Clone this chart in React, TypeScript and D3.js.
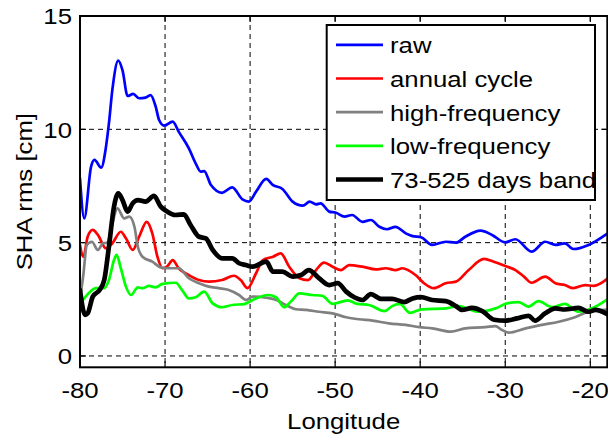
import React from 'react';
import * as d3 from 'd3';

// ---- data (longitude, SHA rms in cm) ----
const rawLon = [-80, -79.5, -78.7, -78.3, -77.5, -77.0, -76.6, -76.2, -75.5, -75.0, -74.4, -73.75, -73.05, -72.3, -71.7, -71.1, -70.7, -70.1, -69.1, -68.4, -67.2, -66.4, -65.8, -65.4, -64.6, -63.3, -62.1, -60.9, -60.15, -59.3, -58.1, -57.3, -56.2, -55.0, -53.8, -53.0, -52.25, -51.7, -50.7, -49.9, -48.9, -48.0, -46.8, -45.8, -44.8, -43.9, -42.9, -41.7, -40.9, -39.9, -38.6, -37.0, -35.8, -34.7, -32.9, -31.55, -30.0, -28.8, -26.9, -25.3, -24.1, -23.0, -22.0, -20.2, -18.0];
const rawVal = [7.84, 6.07, 8.35, 8.65, 8.31, 9.09, 10.26, 11.73, 13.03, 12.6, 11.47, 11.56, 11.37, 11.4, 11.51, 11.0, 10.41, 10.16, 10.34, 9.9, 9.16, 8.5, 8.13, 8.16, 7.54, 7.2, 7.44, 6.91, 6.81, 7.25, 7.81, 7.54, 7.37, 6.81, 6.63, 6.81, 6.69, 6.73, 6.37, 6.32, 6.15, 6.22, 5.92, 6.0, 5.7, 5.59, 5.7, 5.41, 5.29, 5.24, 4.9, 5.04, 5.0, 5.26, 5.53, 5.34, 5.01, 5.15, 4.6, 5.04, 4.9, 4.97, 4.72, 4.9, 5.4];

const annualLon = [-80, -79.6, -79.1, -78.5, -77.9, -76.95, -76.2, -75.2, -74.6, -73.8, -73.05, -72.15, -71.5, -70.9, -70.3, -69.7, -69.1, -68.4, -67.2, -66.0, -64.85, -63.3, -61.9, -61.1, -60.3, -59.3, -58.5, -57.3, -56.4, -55.4, -54.2, -53.2, -52.25, -51.3, -50.3, -49.3, -48.35, -46.8, -45.2, -44.05, -42.9, -42.1, -40.55, -39.55, -38.4, -37.0, -35.8, -34.3, -32.5, -31.35, -30.0, -28.8, -27.8, -26.9, -25.3, -24.1, -23.0, -22.0, -20.6, -19.6, -18.0];
const annualVal = [4.9, 4.38, 5.26, 5.56, 5.34, 4.75, 4.97, 5.48, 5.19, 4.68, 5.26, 5.92, 5.41, 4.38, 3.87, 3.97, 4.23, 3.87, 3.57, 3.35, 3.28, 3.35, 3.54, 3.35, 2.99, 3.65, 4.23, 4.38, 4.53, 3.94, 3.43, 3.35, 3.79, 4.12, 3.94, 3.79, 4.01, 3.94, 3.82, 3.87, 3.79, 3.87, 3.57, 3.21, 2.99, 3.21, 3.28, 3.79, 4.28, 4.16, 3.97, 3.79, 3.5, 3.23, 3.5, 3.21, 3.13, 2.99, 3.13, 3.09, 3.4];

const highLon = [-80, -79.6, -79.2, -78.6, -77.9, -77.3, -76.8, -76.2, -75.6, -74.8, -74.2, -73.6, -73.2, -72.65, -71.5, -70.5, -69.5, -68.4, -67.2, -66.0, -64.85, -63.7, -62.5, -61.3, -60.45, -59.7, -58.1, -56.9, -55.8, -54.6, -53.4, -51.9, -50.3, -48.7, -47.2, -45.6, -43.7, -41.7, -40.1, -38.6, -36.4, -34.7, -32.3, -31.15, -30.4, -29.6, -27.6, -25.7, -23.7, -21.8, -20.2, -18.0];
const highVal = [2.5, 3.6, 4.9, 5.04, 4.68, 4.97, 5.0, 5.85, 6.51, 6.07, 6.15, 5.7, 4.82, 4.38, 4.16, 3.91, 3.87, 3.87, 3.43, 3.21, 3.06, 2.99, 2.91, 2.69, 2.47, 2.62, 2.57, 2.47, 2.25, 2.06, 2.03, 1.95, 1.88, 1.71, 1.62, 1.56, 1.44, 1.37, 1.27, 1.22, 1.07, 1.22, 1.27, 1.32, 1.15, 1.03, 1.22, 1.37, 1.51, 1.71, 1.95, 2.05];

const lowLon = [-80, -79.7, -78.9, -78.1, -77.15, -76.6, -76.0, -75.7, -75.2, -74.6, -74.0, -73.2, -72.65, -71.9, -71.1, -70.3, -68.75, -68.0, -67.2, -66.4, -65.4, -64.4, -63.3, -62.1, -60.7, -59.7, -57.9, -56.95, -56.0, -55.2, -54.2, -52.65, -51.5, -50.3, -48.5, -47.4, -46.0, -44.2, -43.3, -42.4, -41.2, -39.8, -37.0, -35.5, -33.1, -31.15, -29.8, -28.4, -27.25, -26.1, -24.5, -23.0, -21.4, -19.8, -18.0];
const lowVal = [2.3, 2.45, 2.8, 2.99, 2.99, 3.35, 4.23, 4.46, 3.87, 3.06, 2.69, 3.03, 2.99, 3.09, 3.03, 3.18, 3.23, 2.91, 2.54, 2.59, 2.84, 2.32, 2.15, 2.25, 2.29, 2.47, 2.69, 2.59, 2.15, 2.4, 2.76, 2.69, 2.65, 2.3, 2.45, 2.3, 2.25, 1.98, 2.2, 2.3, 1.9, 2.06, 2.1, 2.2, 1.95, 2.1, 2.32, 2.38, 2.18, 2.42, 2.16, 2.3, 1.95, 2.1, 2.5];

const bandLon = [-80, -79.4, -79.1, -78.5, -77.7, -77.15, -76.6, -76.0, -75.5, -75.0, -74.4, -73.8, -73.2, -72.3, -71.3, -70.5, -69.9, -68.75, -67.8, -67.0, -66.0, -65.2, -64.4, -63.3, -62.1, -61.3, -60.5, -59.7, -58.1, -57.3, -56.2, -55.0, -54.0, -53.1, -51.9, -50.7, -49.7, -48.7, -47.75, -46.8, -45.8, -44.6, -43.3, -41.9, -40.9, -39.9, -38.6, -37.0, -35.8, -35.1, -33.9, -32.7, -31.3, -30.0, -28.6, -27.25, -26.5, -25.3, -24.1, -23.0, -21.4, -20.2, -19.4, -18.0];
const bandVal = [2.91, 1.81, 1.88, 2.62, 2.91, 3.35, 4.82, 6.59, 7.18, 6.88, 6.37, 6.74, 6.88, 6.81, 7.06, 6.59, 6.41, 6.22, 6.25, 5.78, 5.26, 5.19, 4.68, 4.31, 4.31, 4.09, 4.01, 3.94, 4.16, 3.72, 3.72, 3.5, 3.57, 3.79, 3.43, 3.13, 3.21, 2.84, 2.59, 2.47, 2.73, 2.52, 2.52, 2.38, 2.54, 2.6, 2.47, 2.42, 2.2, 2.03, 2.12, 1.98, 1.6, 1.56, 1.66, 1.77, 1.56, 1.88, 2.1, 2.05, 2.12, 1.95, 2.03, 1.85];

const legendLabels = ['raw', 'annual cycle', 'high-frequency', 'low-frequency', '73-525 days band'];
const xTicks = [-80, -70, -60, -50, -40, -30, -20];
const yTicks = [0, 5, 10, 15];

// ---- styles ----
const seriesColors = ['#0000ff', '#ff0000', '#808080', '#00ff00', '#000000'];
const seriesWidths = [2.7, 2.7, 2.7, 2.7, 4.7];

const FONT = '"Liberation Sans", Arial, Helvetica, sans-serif';
const FS = 23;
const SX = 1.12;

export default function App() {
  const W = 608, H = 437;
  const left = 80, right = 607.3, top = 16, bottom = 367.3;
  const x = d3.scaleLinear().domain([-80, -18]).range([left, right]);
  const y = d3.scaleLinear().domain([-0.5, 15]).range([bottom, top]);
  const line = d3.line<[number, number]>().x(d => x(d[0])).y(d => y(d[1])).curve(d3.curveMonotoneX);

  const series: [number, number][][] = [
    rawLon.map((l, i) => [l, rawVal[i]]),
    annualLon.map((l, i) => [l, annualVal[i]]),
    highLon.map((l, i) => [l, highVal[i]]),
    lowLon.map((l, i) => [l, lowVal[i]]),
    bandLon.map((l, i) => [l, bandVal[i]]),
  ];

  const lgX0 = 326.7, lgX1 = 595, lgY0 = 25, lgY1 = 200;
  const rowBase = [53.3, 87, 120.7, 154.3, 188];

  return (
    <svg width={W} height={H} style={{ position: 'absolute', left: 0, top: 0, background: '#fff' }} fontFamily={FONT}>
      <defs>
        <clipPath id="plotclip">
          <rect x={left} y={top} width={right - left} height={bottom - top} />
        </clipPath>
      </defs>
      <rect x={0} y={0} width={W} height={H} fill="#fff" />
      {/* grid */}
      {xTicks.filter(t => t > -80).map(t => (
        <line key={'gx' + t} x1={x(t)} x2={x(t)} y1={top} y2={bottom} stroke="#000" strokeWidth={1} strokeDasharray="5,4" />
      ))}
      {yTicks.filter(t => t < 15).map(t => (
        <line key={'gy' + t} x1={left} x2={right} y1={y(t)} y2={y(t)} stroke="#000" strokeWidth={1} strokeDasharray="5,4" />
      ))}
      {/* ticks inward */}
      {xTicks.map(t => (
        <g key={'tx' + t}>
          <line x1={x(t)} x2={x(t)} y1={bottom} y2={bottom - 6} stroke="#000" strokeWidth={1.2} />
          <line x1={x(t)} x2={x(t)} y1={top} y2={top + 6} stroke="#000" strokeWidth={1.2} />
        </g>
      ))}
      {yTicks.map(t => (
        <g key={'ty' + t}>
          <line x1={left} x2={left + 6} y1={y(t)} y2={y(t)} stroke="#000" strokeWidth={1.2} />
          <line x1={right} x2={right - 6} y1={y(t)} y2={y(t)} stroke="#000" strokeWidth={1.2} />
        </g>
      ))}
      {/* series */}
      <g clipPath="url(#plotclip)">
        {series.map((s, i) => (
          <path key={'s' + i} d={line(s) || ''} fill="none" stroke={seriesColors[i]} strokeWidth={seriesWidths[i]} strokeLinejoin="round" strokeLinecap="round" />
        ))}
      </g>
      {/* axes box */}
      <rect x={left} y={top} width={right - left} height={bottom - top} fill="none" stroke="#000" strokeWidth={2} />
      {/* tick labels */}
      {xTicks.map(t => (
        <text key={'lx' + t} transform={`translate(${x(t)},398) scale(${SX},1)`} textAnchor="middle" fontSize={FS} fill="#000">{t}</text>
      ))}
      {yTicks.map(t => (
        <text key={'ly' + t} transform={`translate(72,${y(t) + 8.2}) scale(${SX},1)`} textAnchor="end" fontSize={FS} fill="#000">{t}</text>
      ))}
      {/* axis labels */}
      <text transform={`translate(${(left + right) / 2},429) scale(${SX},1)`} textAnchor="middle" fontSize={FS} fill="#000">Longitude</text>
      <text transform={`translate(32,${(top + bottom) / 2}) rotate(-90) scale(${SX},1)`} textAnchor="middle" fontSize={FS} fill="#000">SHA rms [cm]</text>
      {/* legend */}
      <rect x={lgX0} y={lgY0} width={lgX1 - lgX0} height={lgY1 - lgY0} fill="#fff" stroke="#000" strokeWidth={2} />
      {legendLabels.map((lab, i) => (
        <g key={'lg' + i}>
          <line x1={336} x2={383} y1={rowBase[i] - 8.5} y2={rowBase[i] - 8.5} stroke={seriesColors[i]} strokeWidth={seriesWidths[i]} />
          <text transform={`translate(390,${rowBase[i]}) scale(${SX},1)`} fontSize={FS} fill="#000">{lab}</text>
        </g>
      ))}
    </svg>
  );
}
